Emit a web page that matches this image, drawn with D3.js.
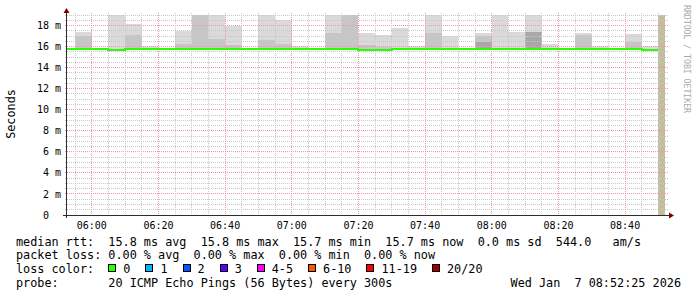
<!DOCTYPE html>
<html>
<head>
<meta charset="utf-8">
<script src="https://cdn.jsdelivr.net/npm/d3@7"></script>
<style>
  body { margin: 0; background: #fff; }
  text { font-family: "DejaVu Sans Mono", monospace; white-space: pre; }
</style>
</head>
<body>
<script>
// 5 minute bins (start time), values in ms
const binStart = ["05:50","05:55","06:00","06:05","06:10","06:15","06:20","06:25","06:30","06:35",
                  "06:40","06:45","06:50","06:55","07:00","07:05","07:10","07:15","07:20","07:25",
                  "07:30","07:35","07:40","07:45","07:50","07:55","08:00","08:05","08:10","08:15",
                  "08:20","08:25","08:30","08:35","08:40","08:45"]
const medianMs = [15.8,15.8,15.8,15.7,15.8,15.8,15.8,15.8,15.8,15.8,
                  15.8,15.8,15.8,15.8,15.8,15.8,15.8,15.8,15.7,15.7,
                  15.8,15.8,15.8,15.8,15.8,15.8,15.8,15.8,15.8,15.8,
                  15.8,15.8,15.8,15.8,15.8,15.7]
// smoke: outer pings (light), inner pings (mid), core (dark)
const smokeMaxMs = [null,17.4,null,19.6,18.1,16.1,null,17.5,19.6,19.6,
                    18.0,null,19.6,18.5,16.05,null,19.6,19.6,17.3,17.1,
                    17.8,16.1,19.6,17.0,null,17.3,19.6,17.4,19.6,16.2,
                    null,17.3,16.1,null,17.2,16.05]
const smokeMidMs = [null,17.0,null,null,17.1,null,null,16.2,19.6,16.7,
                    16.15,null,16.6,16.25,null,null,17.3,19.6,16.15,16.0,
                    null,null,17.3,null,null,17.0,null,null,17.4,null,
                    null,17.1,null,null,16.4,null]
const smokeCoreMs = [null,null,null,null,null,null,null,null,null,null,
                     null,null,null,null,null,null,null,null,null,null,
                     null,null,null,null,null,16.4,null,null,17.4,null,
                     null,null,null,null,null,null]
const smokeFloorMs = 15.7
const unknownFrom = "08:50", unknownTo = "08:52"

const yTicks = [0,2,4,6,8,10,12,14,16,18]
const xMajor = ["06:00","06:20","06:40","07:00","07:20","07:40","08:00","08:20","08:40"]

const legendRtt = "median rtt:  15.8 ms avg  15.8 ms max  15.7 ms min  15.7 ms now  0.0 ms sd  544.0   am/s"
const legendLoss = "packet loss: 0.00 % avg  0.00 % max  0.00 % min  0.00 % now"
const lossLabels = ["0","1","2","3","4-5","6-10","11-19","20/20"]
const lossColors = ["#26ff00","#00b8ff","#0059ff","#5e00ff","#ff00ff","#ff5500","#ff0000","#a00000"]
const legendProbe = "probe:       20 ICMP Echo Pings (56 Bytes) every 300s"
const stamp = "Wed Jan  7 08:52:25 2026"

const t = s => { var p = s.split(":"); return new Date(2026, 0, 7, +p[0], +p[1], +(p[2] || 0)) }
const step = 5 * 60 * 1000

var W = 697, H = 297
var pL = 66.5, pR = 666.5, pT = 15, pB = 215

var x = d3.scaleTime()
    .domain([t("05:52:25"), t("08:52:25")])
    .range([pL, pR])
var y = d3.scaleLinear()
    .domain([0, 19])
    .range([pB, pT])

var svg = d3.select("body").append("svg")
    .attr("width", W).attr("height", H)
svg.append("rect").attr("width", W).attr("height", H).attr("fill", "#fff")

svg.append("clipPath").attr("id", "plot")
  .append("rect").attr("x", pL).attr("y", pT).attr("width", pR - pL).attr("height", pB - pT)

var datos = binStart.map((b, i) => ({ t: t(b), med: medianMs[i], hi: smokeMaxMs[i], mid: smokeMidMs[i], core: smokeCoreMs[i] }))

// smoke
var smoke = svg.append("g").attr("clip-path", "url(#plot)")
function capas(key, color) {
    smoke.selectAll(null)
        .data(datos.filter(d => d[key] != null))
        .enter().append("rect")
        .attr("x", d => x(d.t))
        .attr("width", d => x(new Date(+d.t + step)) - x(d.t))
        .attr("y", d => y(d[key]))
        .attr("height", d => y(smokeFloorMs) - y(d[key]))
        .attr("fill", color)
        .attr("shape-rendering", "crispEdges")
}
capas("hi", "#dadada")
capas("mid", "#c6c6c6")
capas("core", "#a8a8a8")

// unknown area at the end
smoke.append("rect")
    .attr("x", x(t(unknownFrom)))
    .attr("width", x(t(unknownTo)) - x(t(unknownFrom)))
    .attr("y", pT).attr("height", pB - pT)
    .attr("fill", "#c2be9c")
    .attr("shape-rendering", "crispEdges")

// grid
var grid = svg.append("g").attr("shape-rendering", "crispEdges").attr("stroke-width", 1).attr("stroke-dasharray", "1,1")
var px = v => Math.floor(v) + 0.5
var yMinor = d3.range(0.5, 19.01, 0.5).filter(v => v % 2 != 0)
grid.selectAll(null).data(yMinor).enter().append("line")
    .attr("x1", pL - 2).attr("x2", pR + 2)
    .attr("y1", d => px(y(d))).attr("y2", d => px(y(d)))
    .attr("stroke", "#c8c8c8")
grid.selectAll(null).data(yTicks.filter(v => v > 0)).enter().append("line")
    .attr("x1", pL - 2).attr("x2", pR + 2)
    .attr("y1", d => px(y(d))).attr("y2", d => px(y(d)))
    .attr("stroke", "#eb9c9c")
var majors = xMajor.map(s => +t(s))
var xMinor = d3.timeMinute.every(5).range(t("05:55"), t("08:52:25")).filter(d => majors.indexOf(+d) < 0)
grid.selectAll(null).data(xMinor).enter().append("line")
    .attr("x1", d => px(x(d))).attr("x2", d => px(x(d)))
    .attr("y1", pT - 2).attr("y2", pB + 2)
    .attr("stroke", "#c8c8c8")
grid.selectAll(null).data(xMajor).enter().append("line")
    .attr("x1", d => px(x(t(d)))).attr("x2", d => px(x(t(d))))
    .attr("y1", pT - 2).attr("y2", pB + 2)
    .attr("stroke", "#eb9c9c")

// median line (steps), snapped to whole pixels
var puntos = datos.concat([{ t: t(unknownFrom), med: medianMs[medianMs.length - 1] }])
var linea = d3.line()
    .x(d => Math.round(x(d.t)))
    .y(d => Math.round(y(d.med)))
    .curve(d3.curveStepAfter)
svg.append("g").attr("clip-path", "url(#plot)")
  .append("path")
    .datum(puntos)
    .attr("fill", "none")
    .attr("stroke", lossColors[0])
    .attr("stroke-width", 2)
    .attr("shape-rendering", "crispEdges")
    .attr("d", linea)

// axes
svg.append("line").attr("x1", 63).attr("x2", 670).attr("y1", pB + 0.5).attr("y2", pB + 0.5)
    .attr("stroke", "#2c2c2c").attr("shape-rendering", "crispEdges")
svg.append("line").attr("x1", pL).attr("x2", pL).attr("y1", 12).attr("y2", pB + 3)
    .attr("stroke", "#2c2c2c").attr("shape-rendering", "crispEdges")
svg.append("path").attr("d", "M669,212.5 L674,215.5 L669,218.5 Z").attr("fill", "#7f0000")
svg.append("path").attr("d", "M63.5,13 L66.5,8 L69.5,13 Z").attr("fill", "#7f0000")

// tick labels
svg.selectAll(null).data(xMajor).enter().append("text")
    .attr("x", d => x(t(d))).attr("y", 229)
    .attr("text-anchor", "middle")
    .attr("font-size", "10px")
    .text(d => d)
svg.selectAll(null).data(yTicks).enter().append("text")
    .attr("x", d => d == 0 ? 49 : 61).attr("y", d => y(d) + 3.6)
    .attr("text-anchor", "end")
    .attr("font-size", "10px")
    .text(d => d == 0 ? "0" : d + " m")

svg.append("text")
    .attr("transform", "translate(15,114) rotate(-90)")
    .attr("text-anchor", "middle")
    .attr("font-size", "11.8px")
    .text("Seconds")
svg.append("text")
    .attr("transform", "translate(684,5) rotate(90)")
    .attr("font-size", "8.2px")
    .attr("fill", "#aaaaaa")
    .attr("textLength", 108)
    .text("RRDTOOL / TOBI OETIKER")

// legend
var cw = 11.8 * 0.602
var leg = svg.append("g").attr("font-size", "11.8px")
leg.append("text").attr("x", 16).attr("y", 245.5).text(legendRtt)
leg.append("text").attr("x", 16).attr("y", 259.2).text(legendLoss)
leg.append("text").attr("x", 16).attr("y", 272.9).text("loss color:")
var cx = 16 + 13 * cw
lossLabels.forEach(function (lab, i) {
    leg.append("rect").attr("x", cx + 0.5).attr("y", 264.5).attr("width", 7).attr("height", 7)
        .attr("fill", lossColors[i]).attr("stroke", "#000").attr("shape-rendering", "crispEdges")
    leg.append("text").attr("x", cx + 15).attr("y", 272.9).text(lab)
    cx += 30 + lab.length * cw
})
leg.append("text").attr("x", 16).attr("y", 286.6).text(legendProbe)
leg.append("text").attr("x", 681).attr("y", 286.6).attr("text-anchor", "end").text(stamp)
</script>
</body>
</html>
